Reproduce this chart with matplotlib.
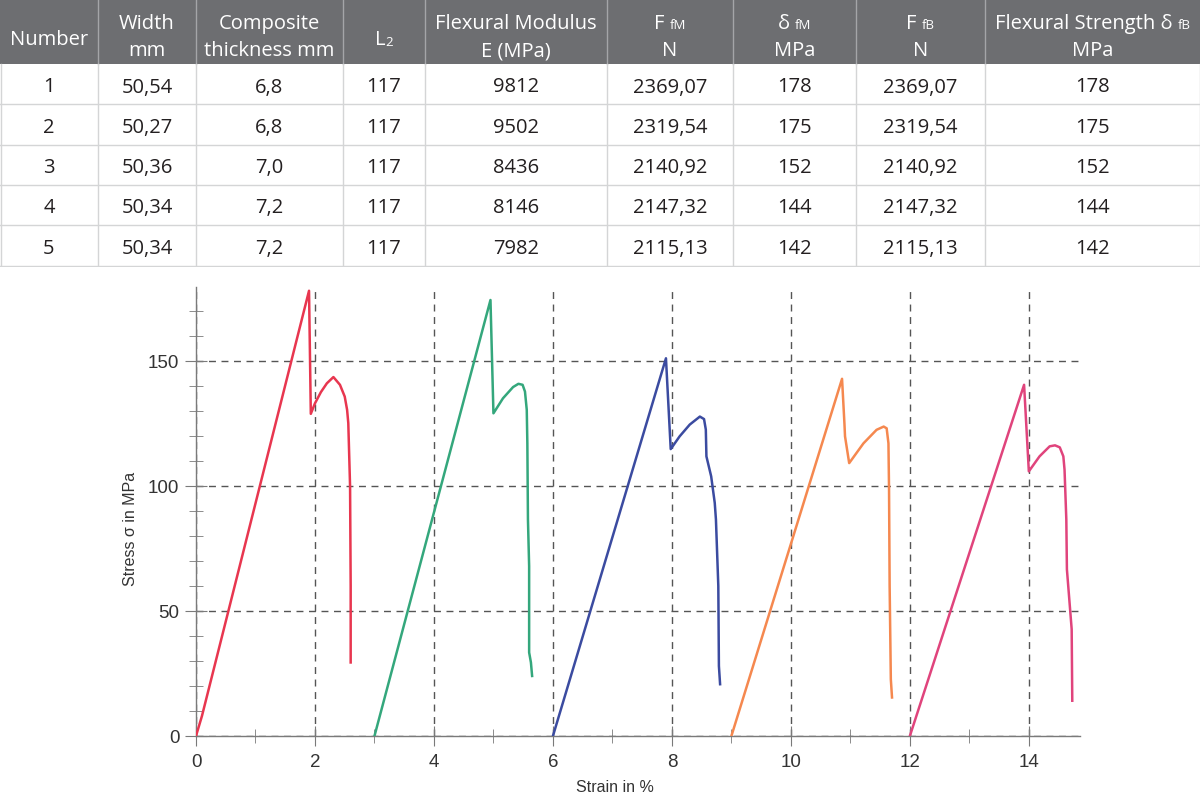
import matplotlib
matplotlib.use("Agg")
import matplotlib.pyplot as plt
from matplotlib.patches import Rectangle

# ---- table data ----
numbers = ["1", "2", "3", "4", "5"]
widths = ["50,54", "50,27", "50,36", "50,34", "50,34"]
thickness = ["6,8", "6,8", "7,0", "7,2", "7,2"]
l2 = ["117", "117", "117", "117", "117"]
modulus = ["9812", "9502", "8436", "8146", "7982"]
f_fm = ["2369,07", "2319,54", "2140,92", "2147,32", "2115,13"]
d_fm = ["178", "175", "152", "144", "142"]
f_fb = ["2369,07", "2319,54", "2140,92", "2147,32", "2115,13"]
d_fb = ["178", "175", "152", "144", "142"]

# ---- stress-strain curves (strain %, stress MPa) ----
strain_1 = [0.0, 0.10, 1.90, 1.93, 2.00, 2.10, 2.20, 2.31, 2.42, 2.50, 2.54, 2.56, 2.59, 2.60, 2.60]
stress_1 = [0.0, 8.0, 178.0, 128.8, 133.0, 137.5, 141.0, 143.5, 140.4, 135.7, 130.4, 125.1, 99.8, 60.0, 29.4]
strain_2 = [3.0, 4.95, 5.00, 5.16, 5.33, 5.42, 5.49, 5.53, 5.56, 5.57, 5.58, 5.60, 5.60, 5.63, 5.65]
stress_2 = [0.0, 174.3, 129.0, 135.0, 139.5, 140.8, 140.4, 137.7, 130.4, 117.0, 86.6, 67.9, 33.4, 29.4, 24.0]
strain_3 = [6.0, 7.90, 7.98, 8.13, 8.30, 8.47, 8.54, 8.57, 8.58, 8.66, 8.72, 8.74, 8.78, 8.79, 8.81]
stress_3 = [0.0, 151.0, 114.7, 119.8, 124.5, 127.7, 126.7, 122.5, 111.8, 103.8, 93.2, 86.6, 60.0, 28.0, 20.7]
strain_4 = [9.0, 10.86, 10.90, 10.91, 10.98, 11.22, 11.44, 11.56, 11.61, 11.64, 11.65, 11.66, 11.68, 11.70]
stress_4 = [0.0, 142.8, 125.0, 119.8, 109.1, 117.0, 122.4, 123.7, 123.0, 117.0, 98.5, 60.0, 22.7, 15.4]
strain_5 = [12.0, 13.92, 14.00, 14.18, 14.35, 14.44, 14.52, 14.58, 14.60, 14.63, 14.64, 14.72, 14.73]
stress_5 = [0.0, 140.4, 105.8, 111.8, 115.8, 116.2, 115.4, 111.8, 106.5, 86.6, 66.6, 42.7, 14.1]

curve_colors = ["#e8364f", "#34a77c", "#3b4ba0", "#f5884f", "#e0447c"]

fig = plt.figure(figsize=(12, 8.04), dpi=100)

# ---------------- table (pixel coordinates) ----------------
tab = fig.add_axes([0, 1 - 268 / 804, 1, 268 / 804])
tab.set_xlim(0, 1200)
tab.set_ylim(268, 0)
tab.axis("off")

col_edges = [0, 98, 196, 343, 425, 607, 733, 856, 985, 1200]
row_edges = [0, 65, 105, 146, 186, 226, 267]
tfont = "Open Sans"
tsize = 14.5

tab.add_patch(Rectangle((0, 0), 1200, 65, color="#6d6e71", lw=0))
for x in col_edges[1:-1]:
    tab.plot([x, x], [0, 65], color="#a4a5a8", lw=1)
    tab.plot([x, x], [65, 267], color="#d4d5d6", lw=1)
for y in row_edges[2:]:
    tab.plot([0, 1200], [y, y], color="#d4d5d6", lw=1)
tab.plot([0.5, 0.5], [65, 267], color="#d4d5d6", lw=1)
tab.plot([1199.5, 1199.5], [65, 267], color="#d4d5d6", lw=1)

renderer = fig.canvas.get_renderer()


def rich(xc, yb, parts, color="white"):
    # parts: list of (text, size, dy); centred on xc, baseline at yb
    objs = []
    total = 0
    for txt, size, dy in parts:
        t = tab.text(0, yb + dy, txt, fontsize=size, family=tfont,
                     color=color, ha="left", va="baseline")
        w = t.get_window_extent(renderer).width
        objs.append((t, w))
        total += w
    x = xc - total / 2
    for t, w in objs:
        t.set_x(x)
        x += w


centers = [(col_edges[i] + col_edges[i + 1]) / 2 for i in range(9)]
small = 9.5
l1, l2b, single = 29, 56, 45
rich(centers[0], single, [("Number", tsize, 0)])
rich(centers[1], l1, [("Width", tsize, 0)])
rich(centers[1], l2b, [("mm", tsize, 0)])
rich(centers[2], l1, [("Composite", tsize, 0)])
rich(centers[2], l2b, [("thickness mm", tsize, 0)])
rich(centers[3], single, [("L", tsize, 0), ("2", small, 1)])
rich(centers[4], l1, [("Flexural Modulus", tsize, 0)])
rich(centers[4], l2b, [("E (MPa)", tsize, 0)])
rich(centers[5], l1, [("F ", tsize, 0), ("fM", small, 0)])
rich(centers[5], l2b, [("N", tsize, 0)])
rich(centers[6], l1, [("δ ", tsize, 0), ("fM", small, 0)])
rich(centers[6], l2b, [("MPa", tsize, 0)])
rich(centers[7], l1, [("F ", tsize, 0), ("fB", small, 0)])
rich(centers[7], l2b, [("N", tsize, 0)])
rich(centers[8], l1, [("Flexural Strength δ ", tsize, 0), ("fB", small, 0)])
rich(centers[8], l2b, [("MPa", tsize, 0)])

columns = [numbers, widths, thickness, l2, modulus, f_fm, d_fm, f_fb, d_fb]
for r in range(5):
    yc = (row_edges[r + 1] + row_edges[r + 2]) / 2
    for c, col in enumerate(columns):
        tab.text(centers[c], yc, col[r], fontsize=tsize, family=tfont,
                 color="#231f20", ha="center", va="center_baseline")

# ---------------- stress-strain chart ----------------
ax = fig.add_axes([196 / 1200, 1 - 737 / 804, (1080 - 196) / 1200, (737 - 288) / 804])
curves = [(strain_1, stress_1), (strain_2, stress_2), (strain_3, stress_3),
          (strain_4, stress_4), (strain_5, stress_5)]
for (sx, sy), col in zip(curves, curve_colors):
    ax.plot(sx, sy, color=col, lw=1.8, solid_joinstyle="round", zorder=3)

ax.set_xlim(0, 14.86)
ax.set_ylim(0, 179.5)
ax.set_xticks(range(0, 15, 2))
ax.set_xticks(range(1, 15, 2), minor=True)
ax.set_yticks([0, 50, 100, 150])
ax.set_yticks([y for y in range(10, 180, 10) if y % 50], minor=True)
for s in ["top", "right"]:
    ax.spines[s].set_visible(False)
for s in ["left", "bottom"]:
    ax.spines[s].set_color("#7a7a7a")
    ax.spines[s].set_linewidth(1)
ax.tick_params(which="both", direction="inout", color="#7a7a7a",
               labelsize=13.5, labelcolor="#333333")
ax.tick_params(which="major", length=14, pad=5)
ax.tick_params(which="minor", length=10)
ax.tick_params(axis="y", which="major", length=16, pad=4)
for lab in ax.get_xticklabels() + ax.get_yticklabels():
    lab.set_family("Liberation Sans")

ax.grid(True, which="major", linestyle=(0, (5, 4)), color="#555555", lw=1, zorder=1)

ax.text(7.05, -20.3, "Strain in %", fontsize=11.5, family="Liberation Sans",
        color="#333333", ha="center", va="center")
ax.text(-1.1, 83, "Stress σ in MPa", fontsize=11.5, family="Liberation Sans",
        color="#333333", ha="center", va="center", rotation=90)

fig.savefig("out.png", dpi=100)
